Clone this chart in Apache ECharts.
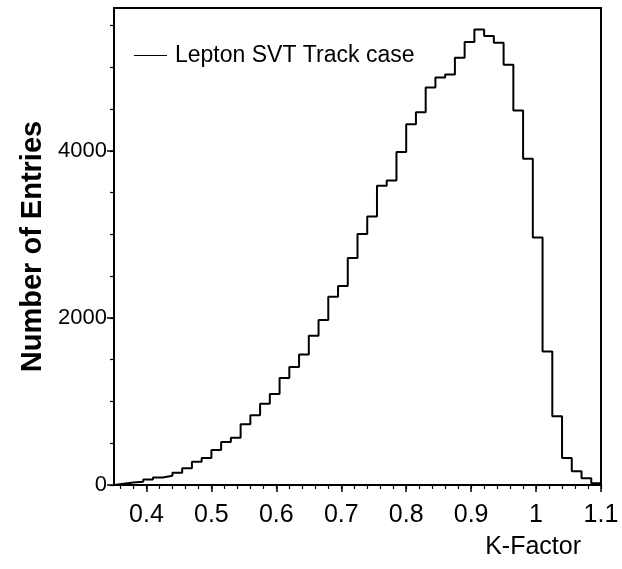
<!DOCTYPE html>
<html>
<head>
<meta charset="utf-8">
<script src="https://cdn.jsdelivr.net/npm/echarts@6/dist/echarts.min.js"></script>
<style>
html,body{margin:0;padding:0;background:#fff;}
#chart{width:622px;height:569px;}
</style>
</head>
<body>
<div id="chart"></div>
<script>
// ---- data ----
var binStart = 0.35;
var binWidth = 0.015;
var counts = [
  15, 30, 40, 66, 90, 110, 146, 202, 278, 322,
  418, 514, 566, 726, 834, 974, 1090, 1282, 1414, 1562,
  1786, 1974, 2254, 2382, 2718, 3006, 3214, 3582, 3646, 3986,
  4318, 4462, 4758, 4878, 4914, 5114, 5302, 5454, 5374, 5294,
  5030, 4482, 3906, 2962, 1598, 822, 322, 166, 82, 22
];
var seriesName = 'Lepton SVT Track case';
var xTickLabels = [0.4, 0.5, 0.6, 0.7, 0.8, 0.9, 1.0, 1.1];
var yTickLabels = [0, 2000, 4000];
var xMin = 0.35, xMax = 1.1;
var yMin = 0, yMax = 5710;

// ---- build step data ----
var binEdges = counts.map(function(_, i){ return +(binStart + binWidth * i).toFixed(4); });
var stepData = [[binStart, 0]];
for (var i = 0; i < counts.length; i++) stepData.push([binEdges[i], counts[i]]);
stepData.push([xMax, counts[counts.length - 1]]);
stepData.push([xMax, 0]);

var xMinor = [];
for (var v = 0.36; v < xMax + 1e-9; v += 0.02) xMinor.push(+v.toFixed(3));
var yMinor = [];
for (var w = 0; w < yMax; w += 500) yMinor.push(w);

var FONT = 'Liberation Sans, Arial, Helvetica, sans-serif';
var chart = echarts.init(document.getElementById('chart'), null, {renderer: 'canvas'});
var grid = {left: 114, top: 8, width: 487, height: 477, show: true, borderColor: '#000', borderWidth: 2, backgroundColor: 'transparent'};
var option = {
  backgroundColor: '#fff',
  animation: false,
  grid: grid,
  legend: {
    left: 129, top: 39,
    icon: 'path://M0 0H33V1H0Z',
    itemWidth: 33, itemHeight: 2, itemGap: 0,
    textStyle: {fontFamily: FONT, fontSize: 23, color: '#000', padding: [0, 0, 0, 3]},
    data: [{name: seriesName, itemStyle: {color: '#000'}}]
  },
  xAxis: [{
    type: 'value', min: xMin, max: xMax, position: 'bottom',
    axisLine: {show: true, onZero: false, lineStyle: {color: '#000', width: 2}},
    axisTick: {show: true, length: 7, customValues: xTickLabels, lineStyle: {color: '#000', width: 1.5}},
    axisLabel: {show: true, customValues: xTickLabels, margin: 18, fontFamily: FONT, fontSize: 25, color: '#000',
      formatter: function(v){ return String(+v.toFixed(2)); }},
    splitLine: {show: false}
  }, {
    type: 'value', min: xMin, max: xMax, position: 'bottom', gridIndex: 0,
    axisLine: {show: false, onZero: false},
    axisTick: {show: true, length: 4, customValues: xMinor, lineStyle: {color: '#000', width: 1.2}},
    axisLabel: {show: false},
    splitLine: {show: false}
  }],
  yAxis: [{
    type: 'value', min: yMin, max: yMax, position: 'left',
    axisLine: {show: true, lineStyle: {color: '#000', width: 2}},
    axisTick: {show: true, length: 7, customValues: yTickLabels, lineStyle: {color: '#000', width: 1.5}},
    axisLabel: {show: true, customValues: yTickLabels, margin: 7, fontFamily: FONT, fontSize: 22, color: '#000',
      formatter: function(v){ return String(Math.round(v)); }},
    splitLine: {show: false},
    name: 'Number of Entries', nameLocation: 'middle', nameRotate: 90, nameGap: 62,
    nameTextStyle: {fontFamily: FONT, fontSize: 29, fontWeight: 'bold', color: '#000'}
  }, {
    type: 'value', min: yMin, max: yMax, position: 'left', gridIndex: 0,
    axisLine: {show: false},
    axisTick: {show: true, length: 4, customValues: yMinor, lineStyle: {color: '#000', width: 1.2}},
    axisLabel: {show: false},
    splitLine: {show: false}
  }],
  graphic: [{
    type: 'text', right: 41, top: 535,
    style: {text: 'K-Factor', fontFamily: FONT, fontSize: 25, fill: '#000'}
  }],
  series: [{
    name: seriesName, type: 'line', step: 'end', xAxisIndex: 0, yAxisIndex: 0,
    data: stepData, symbol: 'none', showSymbol: false,
    lineStyle: {color: '#000', width: 2}, itemStyle: {color: '#000'}
  }]
};
chart.setOption(option);
</script>
</body>
</html>
